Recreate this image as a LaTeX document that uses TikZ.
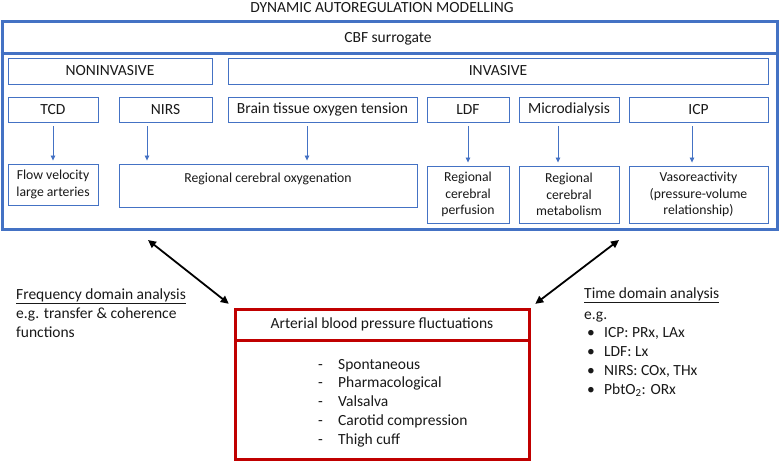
\documentclass[tikz,border=0pt]{standalone}
\usepackage{fontspec}
\setmainfont{Carlito}
\usetikzlibrary{positioning,calc,arrows.meta}
\definecolor{SurBlue}{RGB}{68,114,196}
\definecolor{AbpRed}{RGB}{192,0,0}
\definecolor{InkGray}{RGB}{25,25,25}
\tikzset{
	cell/.style={draw=SurBlue,line width=0.9pt,fill=white,inner sep=2pt,align=center,
		text=InkGray,font=\fontsize{15.5}{16.7}\selectfont},
	lowcell/.style={cell,font=\fontsize{13.7}{16.7}\selectfont},
	frame/.style={draw=SurBlue,line width=3pt},
	redframe/.style={draw=AbpRed,line width=3pt},
	flow/.style={draw=SurBlue,line width=0.8pt,-{Triangle[length=5pt,width=4.5pt]}},
	link/.style={draw=black,line width=1.8pt,{Triangle[length=8pt,width=7.5pt]}-{Triangle[length=8pt,width=7.5pt]}},
	plain/.style={text=InkGray,font=\fontsize{15.5}{18.7}\selectfont,inner sep=0pt,align=left},
}

\begin{document}
\begin{tikzpicture}[x=1pt,y=-1pt]
	\useasboundingbox[fill=white] (0,0) rectangle (779,461);
	\node[plain,anchor=base] (title) at (382,12) {DYNAMIC AUTOREGULATION MODELLING};
	% CBF surrogate frame
	\node[frame,minimum width=775,minimum height=208,inner sep=0pt] (cbf) at (389.5,125) {};
	\draw[frame] (cbf.west |- 0,53) -- (cbf.east |- 0,53);
	\node[plain,anchor=base] (cbfhead) at (388,42) {CBF surrogate};
	% groups
	\node[cell,minimum width=204,minimum height=26] (noninv) at (110,71) {NONINVASIVE};
	\node[cell,minimum width=540,minimum height=26] (inv) at (498,71) {INVASIVE};
	% techniques
	\node[cell,minimum width=90,minimum height=25] (tcd) at (53,109.5) {TCD};
	\node[cell,minimum width=93,minimum height=25] (nirs) at (165.5,109.5) {NIRS};
	\node[cell,minimum width=189,minimum height=25] (pbto) at (322.5,109.5) {Brain tissue oxygen tension};
	\node[cell,minimum width=82,minimum height=25] (ldf) at (468,109.5) {LDF};
	\node[cell,minimum width=100,minimum height=25] (mdial) at (569,109.5) {Microdialysis};
	\node[cell,minimum width=139,minimum height=25] (icp) at (698.5,109.5) {ICP};
	% measured quantities
	\node[lowcell,minimum width=90,minimum height=41] (flowvel) at (53,184.5) {Flow velocity\\large arteries};
	\node[lowcell,minimum width=298,minimum height=43] (oxy) at (268,185.5) {};
	\node[plain,anchor=base,font=\fontsize{13.7}{16.7}\selectfont] (oxytext) at ($(oxy.north)+(0,18.5)$) {Regional cerebral oxygenation};
	\node[lowcell,minimum width=82,minimum height=57] (perf) at (468,194.5) {Regional\\cerebral\\perfusion};
	\node[lowcell,minimum width=100,minimum height=57] (metab) at (569,194.5) {Regional\\cerebral\\metabolism};
	\node[lowcell,minimum width=139,minimum height=57] (vaso) at (698.5,194.5) {Vasoreactivity\\(pressure-volume\\relationship)};
	\draw[flow] ($(tcd.south)+(0,4)$) -- ($(flowvel.north)+(0,-3)$);
	\draw[flow] ($(nirs.south)+(-18.5,4)$) -- ($(oxy.north -| nirs.south)+(-18.5,-3)$);
	\draw[flow] ($(pbto.south)+(-15.5,4)$) -- ($(oxy.north -| pbto.south)+(-15.5,-3)$);
	\draw[flow] ($(ldf.south)+(0,4)$) -- ($(perf.north)+(0,-3)$);
	\draw[flow] ($(mdial.south)+(-11,4)$) -- ($(metab.north)+(-11,-3)$);
	\draw[flow] ($(icp.south)+(-6.5,4)$) -- ($(vaso.north)+(-6.5,-3)$);
	% blood pressure box
	\node[redframe,minimum width=294,minimum height=31,inner sep=0pt,text=InkGray,
		font=\fontsize{15.5}{18}\selectfont] (abp) at (382,324.5) {Arterial blood pressure fluctuations};
	\node[redframe,minimum width=294,minimum height=119,inner sep=0pt] (abplist) at (382,399.5) {};
	\node[plain,anchor=base west] (abpitems) at (318,444)
		{\makebox[20pt][l]{-}Spontaneous\\ \makebox[20pt][l]{-}Pharmacological\\ \makebox[20pt][l]{-}Valsalva\\
		 \makebox[20pt][l]{-}Carotid compression\\ \makebox[20pt][l]{-}Thigh cuff};
	% analysis
	\coordinate (fda) at (148,240);
	\coordinate (tda) at (619,240);
	\draw[link,shorten >=6pt] (fda) -- (abp.north west);
	\draw[link,shorten >=6pt] (tda) -- (abp.north east);
	\node[plain,anchor=base west] (freq) at (16,337)
		{\underline{Frequency domain analysis}\\ e.g. transfer \& coherence\\ functions};
	\node[plain,anchor=base west] (time) at (584,394)
		{\underline{Time domain analysis}\\[2.3pt] e.g.\\
		 \hspace*{3pt}\makebox[17pt][l]{•}ICP: PRx, LAx\\
		 \hspace*{3pt}\makebox[17pt][l]{•}LDF: Lx\\
		 \hspace*{3pt}\makebox[17pt][l]{•}NIRS: COx, THx\\
		 \hspace*{3pt}\makebox[17pt][l]{•}PbtO\textsubscript{2}: ORx};
\end{tikzpicture}
\end{document}
